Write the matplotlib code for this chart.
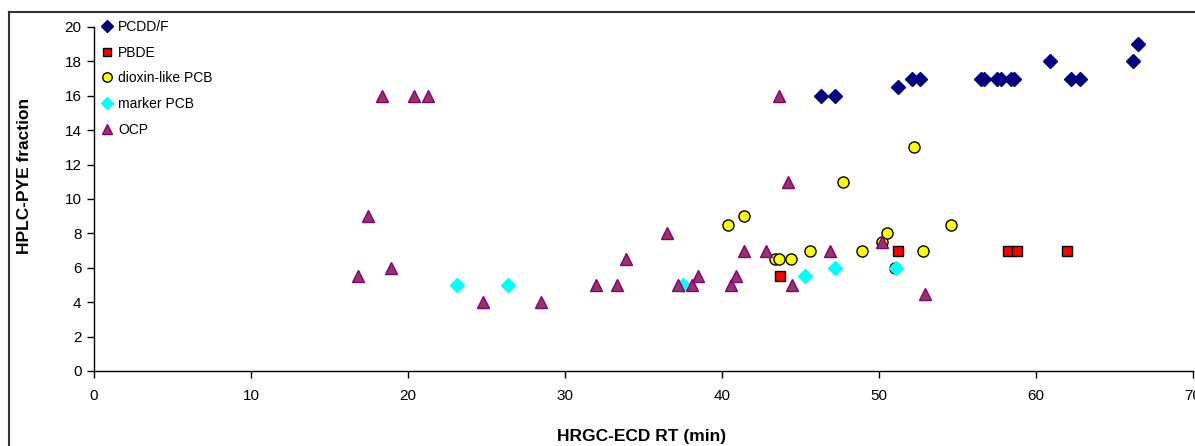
import matplotlib
matplotlib.use("Agg")
import matplotlib.pyplot as plt
from matplotlib.lines import Line2D

plt.rcParams["font.family"] = ["Liberation Sans", "DejaVu Sans"]

# retention time (min) vs HPLC-PYE fraction, per compound class
pcdd_x = [46.3, 47.2, 51.2, 52.1, 52.6, 56.5, 56.7, 57.5, 57.8, 58.4, 58.6, 60.9, 62.2, 62.8, 66.2, 66.5]
pcdd_y = [16, 16, 16.5, 17, 17, 17, 17, 17, 17, 17, 17, 18, 17, 17, 18, 19]

pbde_x = [43.7, 51.2, 58.2, 58.8, 62.0]
pbde_y = [5.5, 7, 7, 7, 7]

dlpcb_x = [40.4, 41.4, 43.4, 43.6, 44.4, 45.6, 47.7, 48.9, 50.2, 50.5, 51.0, 52.2, 52.8, 54.6]
dlpcb_y = [8.5, 9, 6.5, 6.5, 6.5, 7, 11, 7, 7.5, 8, 6, 13, 7, 8.5]

mpcb_x = [23.1, 26.4, 37.5, 45.3, 47.2, 51.1]
mpcb_y = [5, 5, 5, 5.5, 6, 6]

ocp_x = [16.8, 17.45, 18.35, 18.9, 20.4, 21.3, 24.8, 28.5, 32.0, 33.3, 33.9, 36.5, 37.2,
         38.1, 38.5, 40.6, 40.9, 41.4, 42.8, 43.6, 44.2, 44.45, 46.9, 50.2, 52.9]
ocp_y = [5.5, 9, 16, 6, 16, 16, 4, 4, 5, 5, 6.5, 8, 5,
         5, 5.5, 5, 5.5, 7, 7, 16, 11, 5, 7, 7.5, 4.5]

W, H = 1195, 446
fig = plt.figure(figsize=(W / 100, H / 100), dpi=100)
ax = fig.add_axes([94 / W, (H - 371) / H, (1193 - 94) / W, (371 - 27) / H])

ax.plot(pcdd_x, pcdd_y, ls="none", marker="D", ms=7.5, mfc="#000080", mec="#000080",
        label="PCDD/F")
ax.plot(pbde_x, pbde_y, ls="none", marker="s", ms=7.5, mfc="#FF0000", mec="black",
        mew=1.0, label="PBDE")
ax.plot(dlpcb_x, dlpcb_y, ls="none", marker="o", ms=8, mfc="#FFFF00", mec="black",
        mew=1.0, label="dioxin-like PCB")
ax.plot(mpcb_x, mpcb_y, ls="none", marker="D", ms=7.5, mfc="#00FFFF", mec="#00FFFF",
        label="marker PCB")
ax.plot(ocp_x, ocp_y, ls="none", marker="^", ms=9, mfc="#993366", mec="#800080",
        mew=1.0, label="OCP")

ax.set_xlim(0, 70)
ax.set_ylim(0, 20)
ax.set_xticks(range(0, 71, 10))
ax.set_yticks(range(0, 21, 2))
for s in ["top", "right"]:
    ax.spines[s].set_visible(False)
for s in ["left", "bottom"]:
    ax.spines[s].set_linewidth(1.0)
ax.tick_params(direction="out", length=5, width=1, labelsize=11, pad=4)
ax.tick_params(axis="x", pad=8)

fig.text(642 / W, 1 - 437 / H, "HRGC-ECD RT (min)", ha="center", va="center",
         fontsize=12.5, fontweight="bold")
fig.text(25 / W, 1 - 176 / H, "HPLC-PYE fraction", ha="center", va="center",
         rotation=90, fontsize=12.5, fontweight="bold")

leg = ax.legend(loc="upper left", bbox_to_anchor=(100 / W, 1 - 20 / H),
                bbox_transform=fig.transFigure, frameon=False, fontsize=10,
                handlelength=1.0, handletextpad=0.3, labelspacing=0.84,
                borderpad=0, borderaxespad=0, numpoints=1, markerscale=0.85)

# chart area border (excel style), cut at right/bottom
fig.add_artist(Line2D([9 / W, 1], [1 - 12 / H, 1 - 12 / H], transform=fig.transFigure,
                      color="#333333", lw=1.5))
fig.add_artist(Line2D([9 / W, 9 / W], [0, 1 - 12 / H], transform=fig.transFigure,
                      color="#333333", lw=1.5))

fig.savefig("out.png", dpi=100)
